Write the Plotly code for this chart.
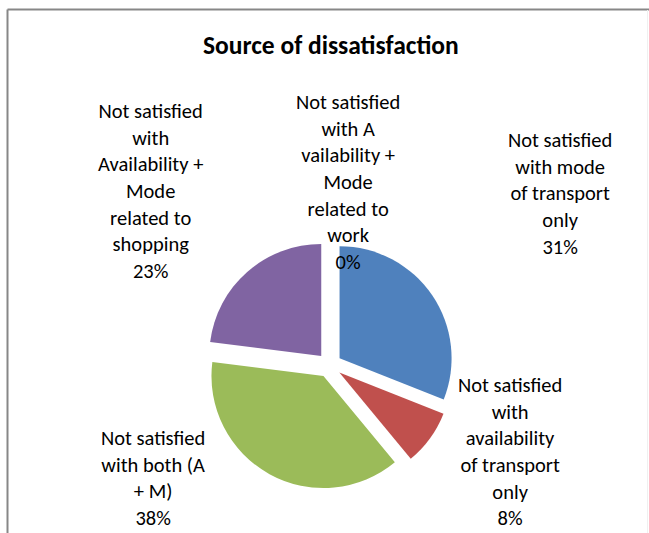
import plotly.graph_objects as go

# ---- data ----
categories = [
    "Not satisfied<br>with mode<br>of transport<br>only",
    "Not satisfied<br>with<br>availability<br>of transport<br>only",
    "Not satisfied<br>with both (A<br>+ M)",
    "Not satisfied<br>with<br>Availability +<br>Mode<br>related to<br>shopping",
    "Not satisfied<br>with A<br>vailability +<br>Mode<br>related to<br>work",
]
values = [31, 8, 38, 23, 0]
colors = ["#4F81BD", "#C0504D", "#9BBB59", "#8064A2", "#4BACC6"]
title_text = "Source of dissatisfaction"

W, H = 649, 533
FONT = "Carlito, Calibri, Lato, sans-serif"

# label centres (pixels) -- layout only
label_pos = [(560, 193), (510, 451), (153, 478), (150, 191), (348, 182)]

# pie geometry (pixels)
cx, cy, r, pull = 329.4, 365.2, 112.0, 0.11
half = r * (1 + pull)

fig = go.Figure(go.Pie(
    labels=categories,
    values=values,
    sort=False,
    direction="clockwise",
    rotation=0,
    pull=[pull] * len(values),
    marker=dict(colors=colors, line=dict(width=0)),
    textinfo="none",
    hoverinfo="label+percent",
    showlegend=False,
    domain=dict(x=[(cx - half) / W, (cx + half) / W],
                y=[(H - cy - half) / H, (H - cy + half) / H]),
))

total = sum(values)
annotations = []
for lab, v, (px, py) in zip(categories, values, label_pos):
    pct = round(v / total * 100)
    annotations.append(dict(
        text=f"{lab}<br>{pct}%",
        x=px / W, y=1 - py / H, xref="paper", yref="paper",
        xanchor="center", yanchor="middle", showarrow=False,
        align="center",
        font=dict(family=FONT, size=20.5, color="#000000"),
    ))

annotations.append(dict(
    text=f"<b>{title_text}</b>",
    x=331 / W, y=1 - 46 / H, xref="paper", yref="paper",
    xanchor="center", yanchor="middle", showarrow=False,
    font=dict(family=FONT, size=25.5, color="#000000"),
))

shapes = [
    dict(type="line", xref="paper", yref="paper",
         x0=7.5 / W, x1=1.0, y0=1 - 9.5 / H, y1=1 - 9.5 / H,
         line=dict(color="#878787", width=2)),
    dict(type="line", xref="paper", yref="paper",
         x0=7.5 / W, x1=7.5 / W, y0=1 - 9.5 / H, y1=0,
         line=dict(color="#878787", width=2)),
    dict(type="line", xref="paper", yref="paper",
         x0=647.5 / W, x1=647.5 / W, y0=1 - 10 / H, y1=0,
         line=dict(color="#F0F0F0", width=1)),
]

fig.update_layout(
    width=W, height=H,
    margin=dict(l=0, r=0, t=0, b=0),
    paper_bgcolor="#FFFFFF",
    plot_bgcolor="#FFFFFF",
    annotations=annotations,
    shapes=shapes,
    font=dict(family=FONT),
)

fig.write_html(
    "out.html",
    config={"displayModeBar": False},
    post_script="document.body.style.margin='0';document.body.style.overflow='hidden';",
)
